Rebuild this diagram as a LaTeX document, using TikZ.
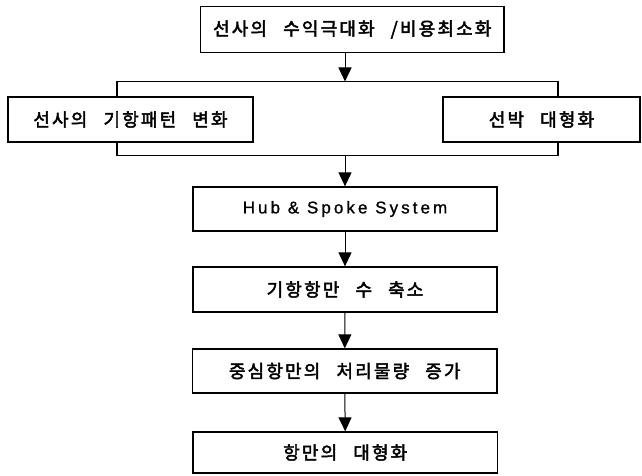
\documentclass[tikz,border=0pt]{standalone}
\usepackage{fontspec}
\setmainfont{Liberation Sans}
\newfontfamily\kr[LetterSpace=12,WordSpace=2.6,FakeBold=2.5]{Noto Sans CJK KR}
\newfontfamily\lat[LetterSpace=18,FakeBold=1]{Liberation Sans}
\usetikzlibrary{arrows.meta}
\begin{document}
\begin{tikzpicture}[x=1pt,y=-1pt,
  box/.style={draw, line width=1.3pt, inner sep=0pt, font=\kr\fontsize{18}{20}\selectfont},
  arr/.style={line width=1pt, -{Triangle[width=13pt,length=14pt]}},
  ln/.style={line width=1.3pt}]
\useasboundingbox (0,0) rectangle (642,476);
\node[box, minimum width=303.5pt, minimum height=46pt] (top) at (352.25,29.5) {선사의 수익극대화 /비용최소화};
\node[box, minimum width=245pt, minimum height=45pt] (left) at (130.5,119.5) {선사의 기항패턴 변화};
\node[box, minimum width=197pt, minimum height=45pt] (right) at (541.5,119.5) {선박 대형화};
\node[box, minimum width=304pt, minimum height=44pt, font=\lat\fontsize{17}{19}\selectfont] (hub) at (345,209) {Hub \& Spoke System};
\node[box, minimum width=304pt, minimum height=45pt] (b2) at (345,289.5) {기항항만 수 축소};
\node[box, minimum width=304.5pt, minimum height=44pt] (b3) at (344.75,371) {중심항만의 처리물량 증가};
\node[box, minimum width=304.5pt, minimum height=41pt] (b4) at (345.25,452.5) {항만의 대형화};
\coordinate (tl) at (117,81.5);
\coordinate (tr) at (558,81.5);
\coordinate (tm) at (345,81.5);
\coordinate (bl) at (117,155.7);
\coordinate (br) at (558,155.7);
\coordinate (bm) at (345,155.7);
\draw[ln] (left.north -| tl) -- (tl) -- (tr) -- (right.north -| tr);
\draw[ln] (left.south -| bl) -- (bl) -- (br) -- (right.south -| br);
\draw[arr] (top.south -| tm) -- (tm);
\draw[arr] (bm) -- (hub.north -| bm);
\draw[arr] (hub.south) -- (b2.north);
\draw[arr] (b2.south) -- (b3.north);
\draw[arr] (b3.south) -- (b4.north);
\end{tikzpicture}
\end{document}
